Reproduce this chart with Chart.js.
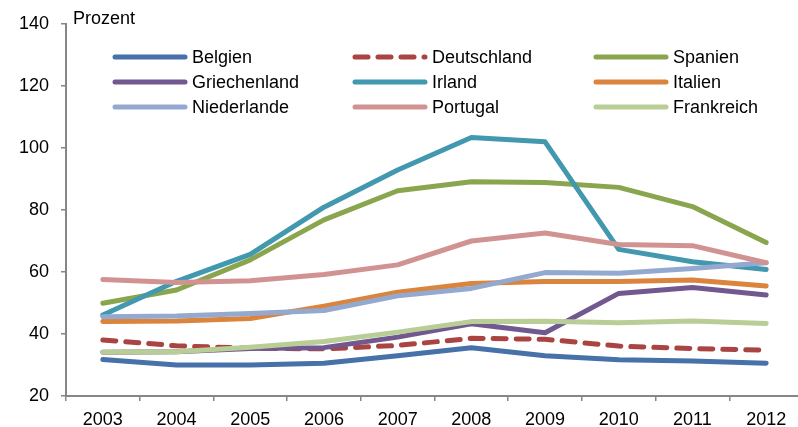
<!DOCTYPE html>
<html lang="de">
<head>
    <meta charset="UTF-8">
    <title>Hypothekenkredite</title>
    <script src="https://cdn.jsdelivr.net/npm/chart.js"></script>
    <style>
        body { margin: 0; background: #fff; }
        .chart-container { width: 798px; height: 427px; overflow: hidden; position: relative; }
        canvas { display: block; }
    </style>
</head>
<body>
    <div class="chart-container">
        <canvas id="chartCanvas" width="806" height="427"></canvas>
    </div>

    <script>
        // Daten
        const years = ['2003', '2004', '2005', '2006', '2007', '2008', '2009', '2010', '2011', '2012'];

        const belgien      = [31.8, 30.0, 30.0, 30.6, 33.0, 35.6, 33.0, 31.7, 31.3, 30.6];
        const deutschland  = [38.1, 36.2, 35.4, 35.2, 36.3, 38.6, 38.3, 36.1, 35.3, 34.8];
        const spanien      = [49.9, 54.2, 63.9, 76.8, 86.2, 89.1, 88.9, 87.3, 81.1, 69.5];
        const griechenland = [34.1, 34.3, 35.3, 35.6, 39.0, 43.3, 40.4, 53.1, 55.0, 52.6];
        const irland       = [46.1, 57.0, 65.7, 80.9, 92.9, 103.4, 102.0, 67.3, 63.3, 60.8];
        const italien      = [44.0, 44.2, 45.0, 49.0, 53.5, 56.3, 56.9, 56.9, 57.4, 55.5];
        const niederlande  = [45.6, 45.8, 46.6, 47.6, 52.3, 54.7, 59.8, 59.6, 61.1, 63.0];
        const portugal     = [57.6, 56.6, 57.2, 59.2, 62.3, 70.0, 72.6, 68.9, 68.5, 63.0];
        const frankreich   = [34.1, 34.3, 35.7, 37.6, 40.6, 44.0, 44.1, 43.6, 44.2, 43.4];

        const labels  = ['Belgien', 'Deutschland', 'Spanien', 'Griechenland', 'Irland', 'Italien', 'Niederlande', 'Portugal', 'Frankreich'];
        const values  = [belgien, deutschland, spanien, griechenland, irland, italien, niederlande, portugal, frankreich];
        const colors  = ['#4671A9', '#AA4443', '#89A54E', '#71588F', '#4198AF', '#DB843D', '#93A9CF', '#D19392', '#B9CD96'];
        const dashed  = [false, true, false, false, false, false, false, false, false];

        const yTicks = { min: 20, max: 140, step: 20 };

        const FONT = 'Liberation Sans, Arial, sans-serif';
        const LINE_W = 5;
        const DASH = [13, 10];

        // Legende im Diagramm (3 Spalten) + Achsentitel
        const legendPlugin = {
            id: 'gridLegend',
            afterDraw(chart) {
                const ctx = chart.ctx;
                const cols = [115, 355, 596];
                const rows = [57, 82, 107];
                ctx.save();
                ctx.font = '18px ' + FONT;
                ctx.fillStyle = '#000';
                ctx.textBaseline = 'middle';
                ctx.textAlign = 'left';
                ctx.fillText('Prozent', 73, 19);

                labels.forEach((name, i) => {
                    const x = cols[i % 3];
                    const y = rows[Math.floor(i / 3)];
                    ctx.beginPath();
                    ctx.strokeStyle = colors[i];
                    ctx.lineWidth = LINE_W;
                    ctx.lineCap = 'round';
                    ctx.setLineDash(dashed[i] ? DASH : []);
                    ctx.moveTo(x, y);
                    ctx.lineTo(x + 70, y);
                    ctx.stroke();
                    ctx.setLineDash([]);
                    ctx.fillText(name, x + 77, y + 1);
                });
                ctx.restore();
            }
        };

        const datasets = labels.map((name, i) => ({
            label: name,
            data: values[i],
            borderColor: colors[i],
            backgroundColor: colors[i],
            borderWidth: LINE_W,
            borderDash: dashed[i] ? DASH : [],
            borderCapStyle: 'round',
            borderJoinStyle: 'round',
            pointRadius: 0,
            tension: 0,
            fill: false,
            order: labels.length - i   // spätere Reihen oben
        }));

        const ctx = document.getElementById('chartCanvas').getContext('2d');
        new Chart(ctx, {
            type: 'line',
            data: { labels: years, datasets: datasets },
            options: {
                responsive: false,
                animation: false,
                layout: { padding: { top: 24, right: 3, bottom: 0, left: 0 } },
                plugins: {
                    legend: { display: false },
                    tooltip: { enabled: false }
                },
                scales: {
                    x: {
                        offset: true,
                        grid: { offset: true, drawOnChartArea: false, drawTicks: true, tickLength: 5, color: '#868686', lineWidth: 1.5 },
                        border: { display: true, color: '#868686', width: 2 },
                        ticks: { color: '#000', font: { family: FONT, size: 18 }, padding: 8, maxRotation: 0 },
                        afterFit: (scale) => { scale.height = 31; }
                    },
                    y: {
                        min: yTicks.min,
                        max: yTicks.max,
                        grid: { drawOnChartArea: false, drawTicks: true, tickLength: 5, color: '#868686', lineWidth: 1.5 },
                        border: { display: true, color: '#868686', width: 2 },
                        ticks: { stepSize: yTicks.step, color: '#000', font: { family: FONT, size: 18 }, padding: 12 },
                        afterFit: (scale) => { scale.width = 66; }
                    }
                }
            },
            plugins: [legendPlugin]
        });
    </script>
</body>
</html>
